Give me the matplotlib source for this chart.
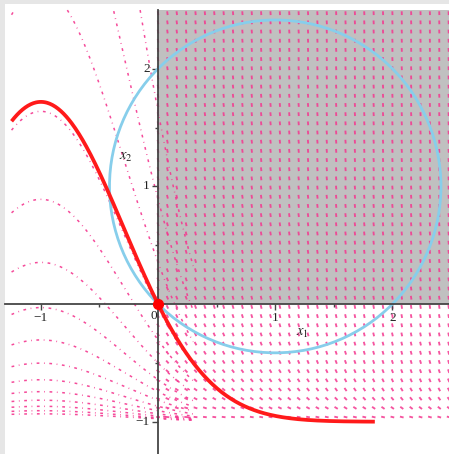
import numpy as np
import matplotlib
matplotlib.use('Agg')
import matplotlib.pyplot as plt
from matplotlib.collections import LineCollection
from matplotlib.patches import Rectangle, Circle

# solutions of dy/dx = -(2x+2)(y+1):  y = C*exp(-x^2-2x) - 1,  C = exp(k/3)
red_k = 0
red_x_range = (-1.25, 1.85)
pink_k = list(range(-11, 4))
pink_x_range = (-1.25, 0.3)

# direction field grid (x >= 0 only)
field_x = np.arange(0.0, 2.49, 0.08)
field_y = np.arange(-0.96, 2.5, 0.078)

circle_center = (1.0, 1.0)
circle_radius = np.sqrt(2)
shade_x = (0.0, 2.5)
shade_y = (0.0, 2.5)

xtick_vals = [-1, 1, 2]
ytick_vals = [-1, 1, 2]

PINK = '#f4378f'


def solution(x, k, shift=0.0):
    return np.exp(k / 3.0 + shift - x**2 - 2 * x) - 1


fig = plt.figure(figsize=(4.49, 4.54), dpi=100, facecolor='#e6e6e6')
ax = fig.add_axes([5 / 449, 0, 444 / 449, 450 / 454])
ax.set_facecolor('white')
ax.set_xlim(-1.306, 2.483)
ax.set_ylim(-1.274, 2.55)

# shaded quadrant
ax.add_patch(Rectangle((shade_x[0], shade_y[0]), shade_x[1] - shade_x[0],
                       shade_y[1] - shade_y[0], color='#c0c0c0', lw=0, zorder=0.5))

# direction field
gx, gy = np.meshgrid(field_x, field_y)
slope = -(2 * gx + 2) * (gy + 1)
norm = np.sqrt(1 + slope**2)
L = 0.016
dx = L / norm
dy = L * slope / norm
segs = np.stack([np.stack([gx - dx, gy - dy], -1),
                 np.stack([gx + dx, gy + dy], -1)], -2).reshape(-1, 2, 2)
ax.add_collection(LineCollection(segs, colors=PINK, linewidths=1.35,
                                 alpha=0.85, zorder=1))

# pink solution curves
xs = np.linspace(pink_x_range[0], pink_x_range[1], 600)
for k in pink_k:
    ys = solution(xs, k, -0.03)
    ys = np.where(ys > 2.5, np.nan, ys)
    ax.plot(xs, ys, color=PINK, lw=1.1, alpha=0.9,
            ls=(0, (1.8, 3.0, 0.5, 3.0)), zorder=1)

# circle
ax.add_patch(Circle(circle_center, circle_radius, fill=False,
                    ec='#87ceeb', lw=2.0, zorder=2))

# red solution through origin
xr = np.linspace(red_x_range[0], red_x_range[1], 400)
ax.plot(xr, solution(xr, red_k), color='#ff1a1a', lw=2.7, zorder=3,
        solid_capstyle='butt')
ax.plot([0], [0], 'o', color='#ff0000', ms=7, zorder=4)

# axes through the origin
for s in ['top', 'right']:
    ax.spines[s].set_visible(False)
ax.spines['left'].set_position(('data', 0))
ax.spines['bottom'].set_position(('data', 0))
ax.spines['left'].set_bounds(-1.274, 2.5)
for s in ['left', 'bottom']:
    ax.spines[s].set_color('#454545')
    ax.spines[s].set_linewidth(1.3)
    ax.spines[s].set_zorder(2.5)

ax.set_xticks([-1, 1, 2])
ax.set_xticks([-0.5, 0.5, 1.5], minor=True)
ax.set_yticks([-1, 1, 2])
ax.set_yticks([-0.5, 0.5, 1.5], minor=True)
ax.set_xticklabels([])
ax.set_yticklabels([])
ax.tick_params(which='major', direction='out', length=4, width=1, color='#454545')
ax.tick_params(which='minor', direction='out', length=2.5, width=1, color='#454545')

font = dict(family='Liberation Serif', size=9.5, color='#222222')
for v in xtick_vals:
    ax.text(v, -0.12, '\u2212' + str(-v) if v < 0 else str(v),
            ha='center', va='center', **font)
ax.text(-0.035, -0.1, '0', ha='center', va='center', **font)
for v in ytick_vals:
    ax.text(-0.07, v, '\u2212' + str(-v) if v < 0 else str(v),
            ha='right', va='center', **font)

plt.rcParams['mathtext.fontset'] = 'stix'
ax.text(1.23, -0.24, '$x_1$', ha='center', va='center', fontsize=10.5, color='#222222')
ax.text(-0.27, 1.25, '$x_2$', ha='center', va='center', fontsize=10.5, color='#222222')

fig.savefig('out.png', dpi=100, facecolor=fig.get_facecolor())
